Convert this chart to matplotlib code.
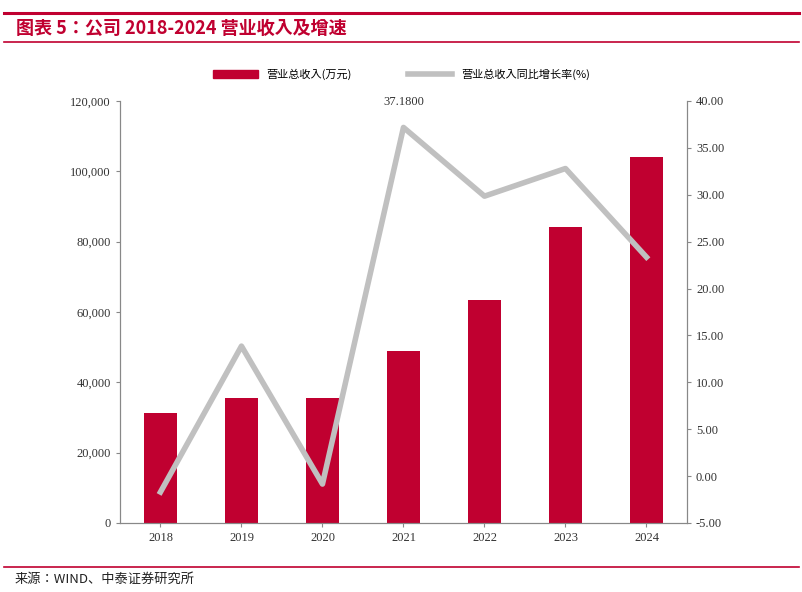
import matplotlib
matplotlib.use("Agg")
import matplotlib.pyplot as plt
from matplotlib.lines import Line2D
from matplotlib.patches import Patch

years = ["2018", "2019", "2020", "2021", "2022", "2023", "2024"]
revenue = [31300, 35600, 35500, 48900, 63400, 84200, 104100]
growth = [-1.7, 13.86, -0.85, 37.18, 29.85, 32.8, 23.35]
left_ticks = [0, 20000, 40000, 60000, 80000, 100000, 120000]
right_ticks = [-5, 0, 5, 10, 15, 20, 25, 30, 35, 40]

cjk = ["Noto Sans CJK SC", "Noto Sans CJK JP", "DejaVu Sans"]
plt.rcParams["font.family"] = cjk
num = "Liberation Serif"
red = "#C00030"

fig = plt.figure(figsize=(8.03, 5.92), dpi=100)
ax = fig.add_axes([0.1494, 0.1166, 0.7061, 0.7128])
ax2 = ax.twinx()
x = list(range(len(years)))
ax.bar(x, revenue, width=0.41, color=red, zorder=2)
ax.set_ylim(0, 120000)
ax.set_xlim(-0.5, 6.5)
ax.set_yticks(left_ticks)
ax.set_yticklabels([f"{v:,}" for v in left_ticks], fontfamily=num, fontsize=9, color="#333333")
ax.set_xticks(x)
ax.set_xticklabels(years, fontfamily=num, fontsize=9, color="#333333")
ax2.plot(x, growth, color="#C0C0C0", lw=4, zorder=3)
ax2.set_ylim(-5, 40)
ax2.set_yticks(right_ticks)
ax2.set_yticklabels([f"{v:.2f}" for v in right_ticks], fontfamily=num, fontsize=9, color="#333333")
ax2.annotate(f"{growth[3]:.4f}", (3, growth[3]), xytext=(0, 16), textcoords="offset points",
             ha="center", fontfamily=num, fontsize=9, color="#333333")
for a in (ax, ax2):
    a.spines["top"].set_visible(False)
    for s in a.spines.values():
        s.set_color("#888888")
    a.tick_params(length=3, color="#888888")

handles = [Patch(color=red), Line2D([], [], color="#C0C0C0", lw=4)]
fig.legend(handles, ["营业总收入(万元)", "营业总收入同比增长率(%)"], loc="center",
           bbox_to_anchor=(0.5, 0.875), ncol=2, frameon=False,
           prop={"family": cjk, "size": 8}, columnspacing=5, handlelength=4)

fig.text(0.02, 0.952, "图表 5：公司 2018-2024 营业收入及增速", fontfamily=cjk, fontsize=13,
         fontweight="bold", fontstyle="italic", color=red, va="center")
fig.add_artist(Line2D([0.005, 0.995], [0.978, 0.978], color=red, lw=2.2))
fig.add_artist(Line2D([0.005, 0.995], [0.929, 0.929], color=red, lw=1.2))
fig.add_artist(Line2D([0.005, 0.995], [0.042, 0.042], color=red, lw=1.2))
fig.text(0.018, 0.022, "来源：WIND、中泰证券研究所", fontfamily=cjk, fontsize=9.5, va="center", color="#222222")
fig.savefig("out.png", dpi=100)
